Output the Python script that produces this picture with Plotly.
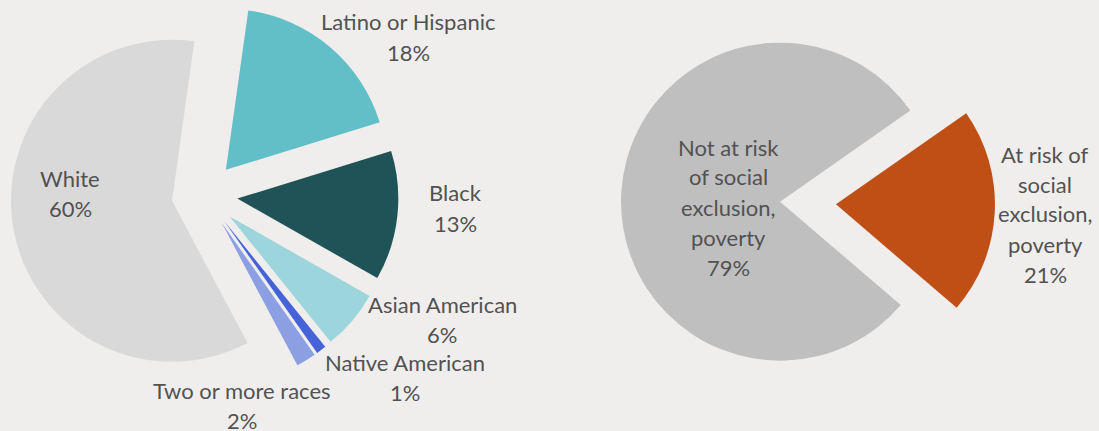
import plotly.graph_objects as go

# Population by race / ethnicity
race_labels = ["Latino or Hispanic", "Black", "Asian American",
               "Native American", "Two or more races", "White"]
race_values = [18, 13, 6, 1, 2, 60]
race_colors = ["#63bfc7", "#1f5358", "#9cd6dc", "#4562d8", "#8c9fe2", "#d9d9d9"]

# Risk of social exclusion / poverty
risk_labels = ["At risk of<br>social<br>exclusion,<br>poverty",
               "Not at risk<br>of social<br>exclusion,<br>poverty"]
risk_values = [21, 79]
risk_colors = ["#c04f16", "#bfbfbf"]

W, H = 1099, 431
BG = "#efeeec"
TEXT = "#525252"
FONT = "Lato"
FONT_SIZE = 22
LINE_STEP = 30  # px between label lines


def px_domain(cx, cy, half):
    """Pie domain (paper coords) from a centre and half-size in pixels."""
    return dict(x=[(cx - half) / W, (cx + half) / W],
                y=[(H - cy - half) / H, (H - cy + half) / H])


fig = go.Figure()

race_pull = 0.205
fig.add_trace(go.Pie(
    labels=race_labels, values=race_values,
    marker=dict(colors=race_colors, line=dict(width=0)),
    sort=False, direction="clockwise", rotation=8,
    pull=[race_pull] * len(race_values),
    textinfo="none", hoverinfo="label+percent",
    domain=px_domain(204.5, 195, 161 * (1 + race_pull)),
    showlegend=False,
))

risk_pull = 0.176
fig.add_trace(go.Pie(
    labels=risk_labels, values=risk_values,
    marker=dict(colors=risk_colors, line=dict(width=0)),
    sort=False, direction="clockwise", rotation=55,
    pull=[risk_pull] * len(risk_values),
    textinfo="none", hoverinfo="label+percent",
    domain=px_domain(808, 203, 159 * (1 + risk_pull)),
    showlegend=False,
))

# label block centres in pixels (x from left, y from top)
race_label_pos = [(408, 37), (455, 208), (442, 319), (405, 377), (242, 405), (70, 193)]
risk_label_pos = [(1045, 214), (728, 207)]

annotations = []
for lab, val, (px, py) in zip(race_labels + risk_labels,
                              race_values + risk_values,
                              race_label_pos + risk_label_pos):
    lines = lab.split("<br>") + [f"{val}%"]
    n = len(lines)
    for i, line in enumerate(lines):
        ly = py + (i - (n - 1) / 2) * LINE_STEP
        annotations.append(dict(
            text=line, x=px / W, y=1 - ly / H,
            xref="paper", yref="paper", xanchor="center", yanchor="middle",
            showarrow=False, align="center",
            font=dict(family=FONT, size=FONT_SIZE, color=TEXT),
        ))

fig.update_layout(
    width=W, height=H,
    margin=dict(l=0, r=0, t=0, b=0),
    paper_bgcolor=BG, plot_bgcolor=BG,
    annotations=annotations,
)

fig.write_html("out.html", config=dict(displayModeBar=False))
